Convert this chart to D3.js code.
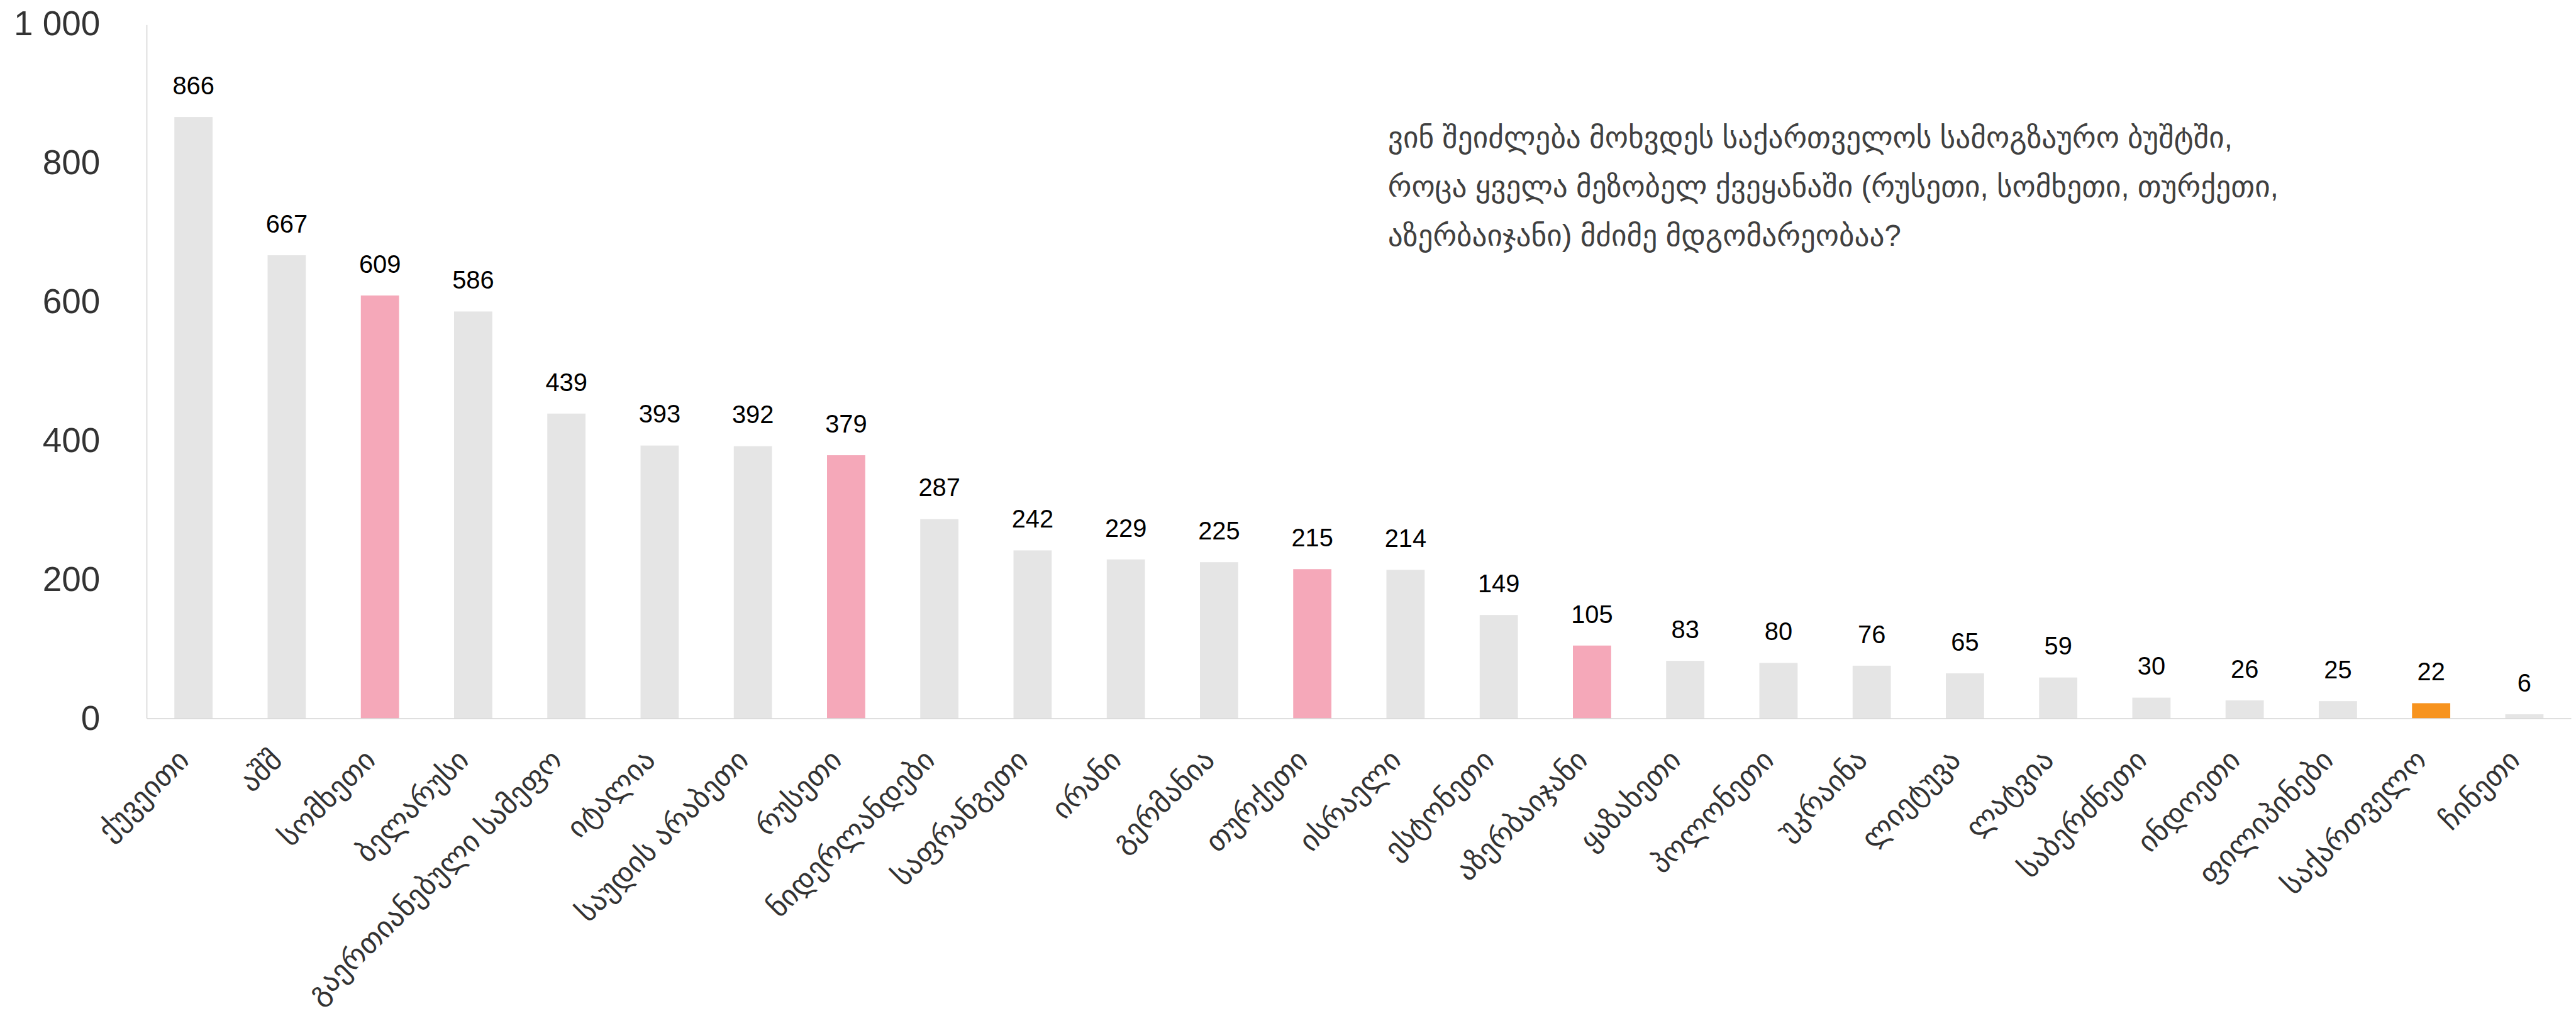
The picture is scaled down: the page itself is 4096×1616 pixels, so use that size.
<!DOCTYPE html>
<html>
<head>
<meta charset="utf-8">
<title>ქვეყნები</title>
<script src="https://cdn.jsdelivr.net/npm/d3@7"></script>
<style>
  html, body { margin: 0; padding: 0; background: #fff; }
  svg { display: block; }
</style>
</head>
<body>
<svg id="chart" width="4096" height="1616" viewBox="0 0 4631 1827"></svg>
<script>
// values
var countries = ["ქუვეითი", "აშშ", "სომხეთი", "ბელარუსი", "გაერთიანებული სამეფო", "იტალია",
  "საუდის არაბეთი", "რუსეთი", "ნიდერლანდები", "საფრანგეთი", "ირანი", "გერმანია", "თურქეთი",
  "ისრაელი", "ესტონეთი", "აზერბაიჯანი", "ყაზახეთი", "პოლონეთი", "უკრაინა", "ლიეტუვა",
  "ლატვია", "საბერძნეთი", "ინდოეთი", "ფილიპინები", "საქართველო", "ჩინეთი"];
var values = [866, 667, 609, 586, 439, 393, 392, 379, 287, 242, 229, 225, 215, 214, 149,
  105, 83, 80, 76, 65, 59, 30, 26, 25, 22, 6];
var neighbours = ["სომხეთი", "რუსეთი", "თურქეთი", "აზერბაიჯანი"];
var home = ["საქართველო"];
var yTicks = [0, 200, 400, 600, 800, 1000];
var note = ["ვინ შეიძლება მოხვდეს საქართველოს სამოგზაურო ბუშტში,",
  "როცა ყველა მეზობელ ქვეყანაში (რუსეთი, სომხეთი, თურქეთი,",
  "აზერბაიჯანი) მძიმე მდგომარეობაა?"];

var svg = d3.select('#chart');
// plot edges, in reference pixels (viewBox does the 0.884 shrink)
var plotLeft = 264, plotRight = 4622, plotTop = 43, plotBottom = 1292;
var font = "'Liberation Sans', Arial, 'DejaVu Sans', sans-serif";

var x = d3.scaleBand().domain(countries).range([plotLeft, plotRight]).paddingInner(0.59).paddingOuter(0.295);
var y = d3.scaleLinear().domain([0, 1000]).range([plotBottom, plotTop]);

var fmt = d3.formatLocale({ decimal: ",", thousands: " ", grouping: [3], currency: ["", ""] }).format(",d");

// y axis
var yAxis = svg.append('g').attr('transform', 'translate(' + plotLeft + ',0)')
  .call(d3.axisLeft(y).tickValues(yTicks).tickSize(0).tickPadding(84).tickFormat(fmt));
yAxis.select('.domain').attr('stroke', '#d9d9d9').attr('stroke-width', 2).attr('d', 'M0,' + (plotTop + 2) + 'V' + plotBottom);
yAxis.selectAll('text').attr('font-family', font).attr('font-size', 62).attr('fill', '#333');

// bars
svg.append('g').selectAll('rect').data(values).enter().append('rect')
  .attr('x', function(d, i) { return x(countries[i]); })
  .attr('y', function(d) { return y(d); })
  .attr('width', x.bandwidth())
  .attr('height', function(d) { return y(0) - y(d); })
  .attr('fill', function(d, i) {
    if (home.indexOf(countries[i]) >= 0) return '#f7931e';
    if (neighbours.indexOf(countries[i]) >= 0) return '#f5a8b9';
    return '#e5e5e5';
  });

// x axis
var xAxis = svg.append('g').attr('transform', 'translate(0,' + plotBottom + ')')
  .call(d3.axisBottom(x).tickSize(0).tickPadding(0));
xAxis.select('.domain').attr('stroke', '#d9d9d9').attr('stroke-width', 2);
xAxis.selectAll('.tick text')
  .attr('font-family', font).attr('font-size', 52.5).attr('fill', '#333')
  .attr('text-anchor', 'end').attr('dy', 0).attr('y', 0)
  .attr('transform', 'translate(-5,78) rotate(-45)');

// value labels
svg.append('g').selectAll('text').data(values).enter().append('text')
  .attr('x', function(d, i) { return x(countries[i]) + x.bandwidth() / 2; })
  .attr('y', function(d) { return y(d) - 41; })
  .attr('text-anchor', 'middle')
  .attr('font-family', font).attr('font-size', 45).attr('fill', '#000')
  .text(function(d) { return d; });

// note
svg.append('text').attr('font-family', font).attr('font-size', 53.5).attr('fill', '#404040')
  .selectAll('tspan').data(note).enter().append('tspan')
  .attr('x', 2495).attr('y', function(d, i) { return 266 + i * 88; })
  .text(function(d) { return d; });
</script>
</body>
</html>
